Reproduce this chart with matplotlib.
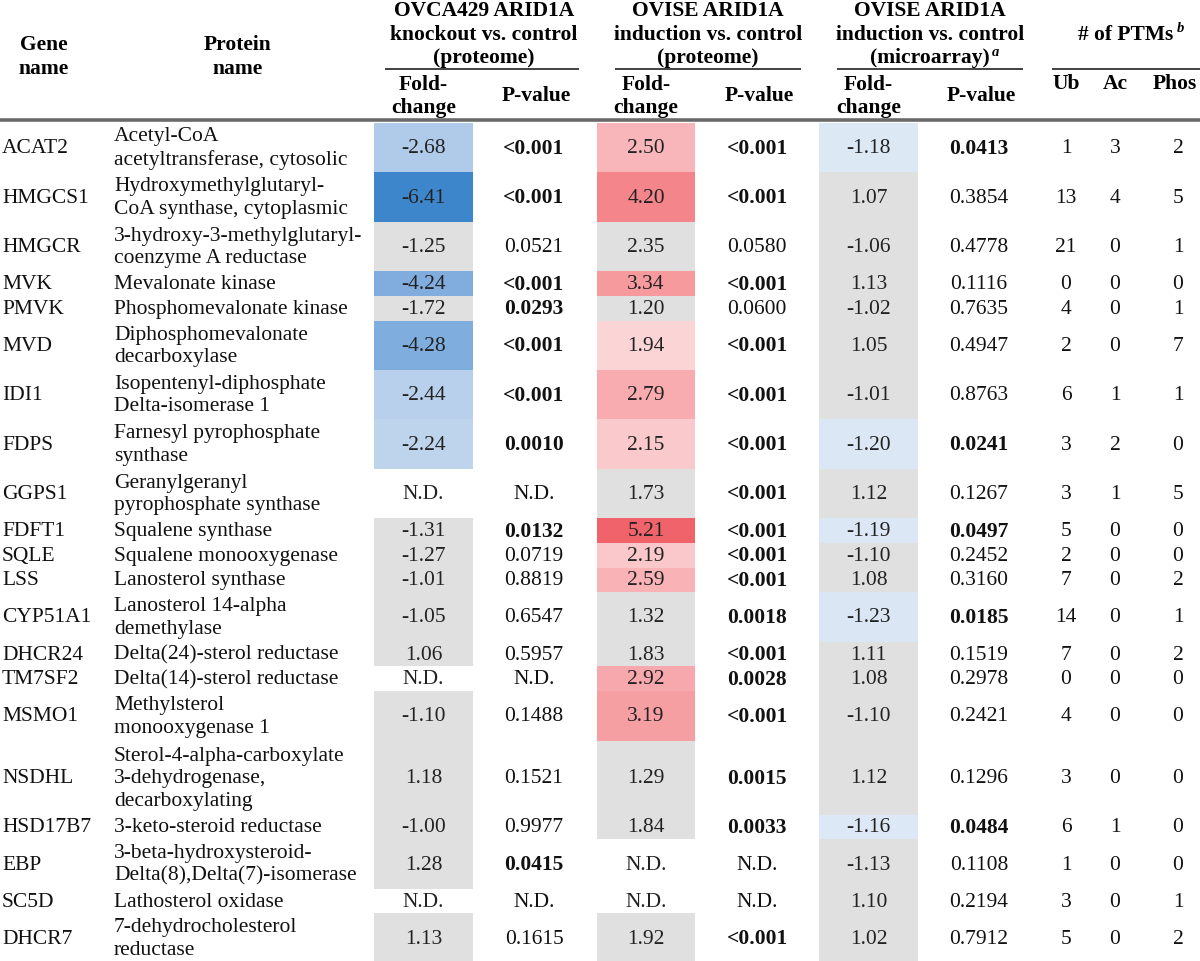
import numpy as np
import matplotlib
matplotlib.use('Agg')
import matplotlib.pyplot as plt
from matplotlib.patches import Rectangle

plt.rcParams['font.family'] = ['Liberation Serif', 'DejaVu Serif']

# ---------------- data ----------------
genes = ['ACAT2', 'HMGCS1', 'HMGCR', 'MVK', 'PMVK', 'MVD', 'IDI1', 'FDPS', 'GGPS1',
         'FDFT1', 'SQLE', 'LSS', 'CYP51A1', 'DHCR24', 'TM7SF2', 'MSMO1', 'NSDHL',
         'HSD17B7', 'EBP', 'SC5D', 'DHCR7']
proteins = ['Acetyl-CoA\nacetyltransferase, cytosolic',
            'Hydroxymethylglutaryl-\nCoA synthase, cytoplasmic',
            '3-hydroxy-3-methylglutaryl-\ncoenzyme A reductase',
            'Mevalonate kinase',
            'Phosphomevalonate kinase',
            'Diphosphomevalonate\ndecarboxylase',
            'Isopentenyl-diphosphate\nDelta-isomerase 1',
            'Farnesyl pyrophosphate\nsynthase',
            'Geranylgeranyl\npyrophosphate synthase',
            'Squalene synthase',
            'Squalene monooxygenase',
            'Lanosterol synthase',
            'Lanosterol 14-alpha\ndemethylase',
            'Delta(24)-sterol reductase',
            'Delta(14)-sterol reductase',
            'Methylsterol\nmonooxygenase 1',
            'Sterol-4-alpha-carboxylate\n3-dehydrogenase,\ndecarboxylating',
            '3-keto-steroid reductase',
            '3-beta-hydroxysteroid-\nDelta(8),Delta(7)-isomerase',
            'Lathosterol oxidase',
            '7-dehydrocholesterol\nreductase']
fc_ovca = ['-2.68', '-6.41', '-1.25', '-4.24', '-1.72', '-4.28', '-2.44', '-2.24', 'N.D.',
           '-1.31', '-1.27', '-1.01', '-1.05', '1.06', 'N.D.', '-1.10', '1.18', '-1.00',
           '1.28', 'N.D.', '1.13']
p_ovca = ['<0.001', '<0.001', '0.0521', '<0.001', '0.0293', '<0.001', '<0.001', '0.0010',
          'N.D.', '0.0132', '0.0719', '0.8819', '0.6547', '0.5957', 'N.D.', '0.1488',
          '0.1521', '0.9977', '0.0415', 'N.D.', '0.1615']
fc_ovise = ['2.50', '4.20', '2.35', '3.34', '1.20', '1.94', '2.79', '2.15', '1.73', '5.21',
            '2.19', '2.59', '1.32', '1.83', '2.92', '3.19', '1.29', '1.84', 'N.D.', 'N.D.',
            '1.92']
p_ovise = ['<0.001', '<0.001', '0.0580', '<0.001', '0.0600', '<0.001', '<0.001', '<0.001',
           '<0.001', '<0.001', '<0.001', '<0.001', '0.0018', '<0.001', '0.0028', '<0.001',
           '0.0015', '0.0033', 'N.D.', 'N.D.', '<0.001']
fc_micro = ['-1.18', '1.07', '-1.06', '1.13', '-1.02', '1.05', '-1.01', '-1.20', '1.12',
            '-1.19', '-1.10', '1.08', '-1.23', '1.11', '1.08', '-1.10', '1.12', '-1.16',
            '-1.13', '1.10', '1.02']
p_micro = ['0.0413', '0.3854', '0.4778', '0.1116', '0.7635', '0.4947', '0.8763', '0.0241',
           '0.1267', '0.0497', '0.2452', '0.3160', '0.0185', '0.1519', '0.2978', '0.2421',
           '0.1296', '0.0484', '0.1108', '0.2194', '0.7912']
ptm_ub = [1, 13, 21, 0, 4, 2, 6, 3, 3, 5, 2, 7, 14, 7, 0, 4, 3, 6, 1, 3, 5]
ptm_ac = [3, 4, 0, 0, 0, 0, 1, 2, 1, 0, 0, 0, 0, 0, 0, 0, 0, 1, 0, 0, 0]
ptm_phos = [2, 5, 1, 0, 1, 7, 1, 0, 5, 0, 0, 2, 1, 2, 0, 0, 0, 0, 0, 1, 2]

# ---------------- layout ----------------
W, H = 1200, 962
fs = 15.5
line_h = 24.7
body_top = 124
gray = '#e0e0e0'

# fold-change cell columns (left, right) and text centres
fc_cols = [(374, 473), (597, 695), (819, 918)]
x_gene, x_prot = 2, 114
x_p = [534, 757, 979]
x_ptm = [1066, 1115, 1178]


def is_sig(p):
    if p == 'N.D.':
        return False
    return p.startswith('<') or float(p) < 0.05


def interp_color(v, stops):
    xs = [s[0] for s in stops]
    rgb = np.array([matplotlib.colors.to_rgb(s[1]) for s in stops])
    return tuple(np.interp(v, xs, rgb[:, i]) for i in range(3))


blue_stops = [(1.0, '#e3edf8'), (1.2, '#dce7f5'), (2.6, '#b3cdea'), (4.26, '#7fadde'), (6.41, '#3d86cc')]
red_stops = [(1.9, '#fbd6d8'), (2.5, '#f9b6ba'), (3.3, '#f69b9f'), (4.2, '#f4868b'), (5.21, '#f0636a')]


def color_ovca(fc, p):
    if fc == 'N.D.':
        return 'white'
    v = float(fc)
    if is_sig(p) and abs(v) >= 2:
        return interp_color(abs(v), blue_stops)
    return gray


def color_ovise(fc, p):
    if fc == 'N.D.':
        return 'white'
    v = float(fc)
    if is_sig(p) and v >= 1.93:
        return interp_color(v, red_stops)
    return gray


def color_micro(fc, p):
    if fc == 'N.D.':
        return 'white'
    if is_sig(p):
        return interp_color(abs(float(fc)), blue_stops)
    return gray


fig = plt.figure(figsize=(12, 9.62), dpi=100)
ax = fig.add_axes([0, 0, 1, 1])
ax.set_xlim(0, W)
ax.set_ylim(H, 0)
ax.axis('off')

# ================= header =================
hb = dict(fontsize=fs, fontweight='bold', ha='center', va='center')
ax.text(44, 57, 'Gene\nname', linespacing=1.25, **hb)
ax.text(238, 57, 'Protein\nname', linespacing=1.25, **hb)

group_titles = [['OVCA429 ARID1A', 'knockout vs. control', '(proteome)'],
                ['OVISE ARID1A', 'induction vs. control', '(proteome)'],
                ['OVISE ARID1A', 'induction vs. control', '(microarray)']]
group_x = [484, 708, 930]
group_lines = [(385, 579), (615, 801), (837, 1023), (1052, 1200)]
last_txt = None
for gx, lines in zip(group_x, group_titles):
    for k, s in enumerate(lines):
        last_txt = ax.text(gx, 11 + k * 23.5, s, **hb)
ax.annotate('a', xy=(1, 0.8), xycoords=last_txt, xytext=(1.5, 0), textcoords='offset points',
            ha='left', va='center', fontsize=10.5, fontweight='bold', fontstyle='italic')
ptm_txt = ax.text(1126, 35, '# of PTMs', **hb)
ax.annotate('b', xy=(1, 0.8), xycoords=ptm_txt, xytext=(2, 0), textcoords='offset points',
            ha='left', va='center', fontsize=10.5, fontweight='bold', fontstyle='italic')

for x1, x2 in group_lines:
    ax.plot([x1, x2], [70, 70], color='#333333', lw=1.3, solid_capstyle='butt')

for (c1, c2), xp in zip(fc_cols, x_p):
    ax.text((c1 + c2) / 2, 96, 'Fold-\nchange', multialignment='center', linespacing=1.2, **hb)
    ax.text(xp + 2, 96, 'P-value', **hb)
for xx, s in zip([1066, 1115, 1175], ['Ub', 'Ac', 'Phos']):
    ax.text(xx, 84, s, **hb)

ax.plot([0, W], [120.5, 120.5], color='#6a6a6a', lw=2.6, solid_capstyle='butt')

# ================= body =================
y = body_top
for i in range(len(genes)):
    n_lines = proteins[i].count('\n') + 1
    h = n_lines * line_h
    yc = y + h / 2

    fcs = [fc_ovca[i], fc_ovise[i], fc_micro[i]]
    ps = [p_ovca[i], p_ovise[i], p_micro[i]]
    cols = [color_ovca(fc_ovca[i], p_ovca[i]),
            color_ovise(fc_ovise[i], p_ovise[i]),
            color_micro(fc_micro[i], p_micro[i])]

    for (c1, c2), fc, p, c, xp in zip(fc_cols, fcs, ps, cols, x_p):
        ax.add_patch(Rectangle((c1, y), c2 - c1, h, facecolor=c, edgecolor='none', zorder=0))
        ax.text((c1 + c2) / 2, yc, fc, fontsize=fs, ha='center', va='center', color='#222222')
        ax.text(xp, yc, p, fontsize=fs, ha='center', va='center', color='#111111',
                fontweight='bold' if is_sig(p) else 'normal')

    ax.text(x_gene, yc, genes[i], fontsize=fs, ha='left', va='center', color='#111111')
    ax.text(x_prot, yc, proteins[i], fontsize=fs, ha='left', va='center',
            linespacing=1.25, color='#111111')
    for xx, v in zip(x_ptm, [ptm_ub[i], ptm_ac[i], ptm_phos[i]]):
        ax.text(xx, yc, str(v), fontsize=fs, ha='center', va='center', color='#111111')

    y += h

fig.savefig('out.png', dpi=100, facecolor='white')
